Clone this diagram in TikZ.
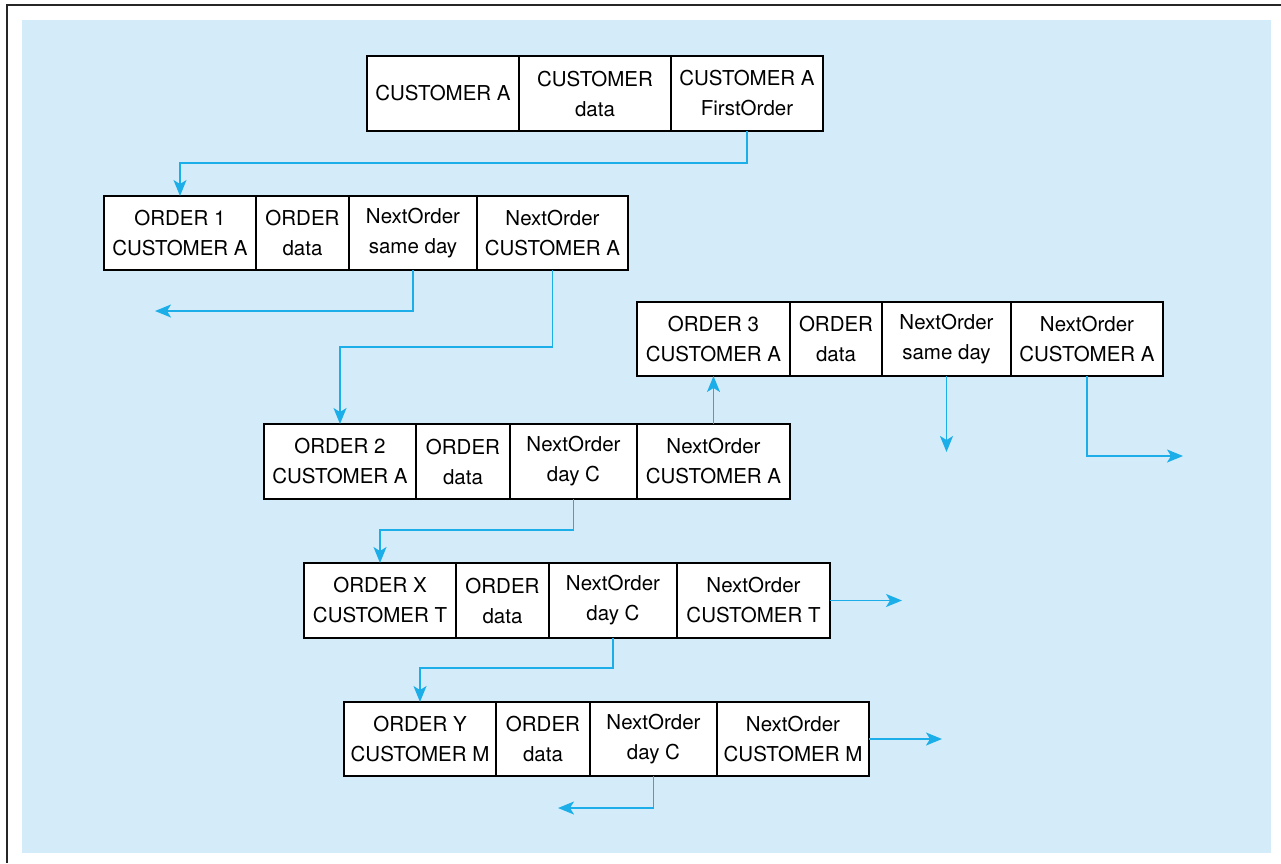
\documentclass[tikz,border=0pt]{standalone}
\usepackage{fontspec}
\setmainfont{TeX Gyre Heros}
\usetikzlibrary{arrows.meta}
\definecolor{bgblue}{HTML}{D4ECF9}
\definecolor{linkcyan}{HTML}{1CAEE9}
\tikzset{
  cell/.style={draw=black, line width=1.3pt, fill=white, inner sep=0pt, outer sep=0pt,
    align=center, font=\fontsize{20.5}{30}\selectfont},
  link/.style={draw=linkcyan, line width=1.6pt, -{Stealth[length=16pt, width=13pt, inset=4pt]}},
}
\newcommand\mkcell[6]{\node[cell, minimum width={(#3-#2)*1pt}, minimum height={(#5-#4)*1pt}] (#1) at ({(#2+#3)/2},{(#4+#5)/2}) {#6};}
\begin{document}
\begin{tikzpicture}[x=1pt,y=-1pt]
\useasboundingbox (0,0) rectangle (1281,863);
\fill[bgblue] (22,20) rectangle (1271,853);
\draw[line width=2pt, black!85] (7,863) -- (7,5) -- (1281,5);
% row 0
\mkcell{r0a}{367}{519}{56}{131}{CUSTOMER A}
\mkcell{r0b}{519}{671}{56}{131}{CUSTOMER\\data}
\mkcell{r0c}{671}{823}{56}{131}{CUSTOMER A\\FirstOrder}
% row 1
\mkcell{r1a}{104}{256}{196}{270}{ORDER 1\\CUSTOMER A}
\mkcell{r1b}{256}{349}{196}{270}{ORDER\\data}
\mkcell{r1c}{349}{477}{196}{270}{NextOrder\\same day}
\mkcell{r1d}{477}{628}{196}{270}{NextOrder\\CUSTOMER A}
% row 3
\mkcell{r3a}{637}{790}{302}{376}{ORDER 3\\CUSTOMER A}
\mkcell{r3b}{790}{882}{302}{376}{ORDER\\data}
\mkcell{r3c}{882}{1011}{302}{376}{NextOrder\\same day}
\mkcell{r3d}{1011}{1163}{302}{376}{NextOrder\\CUSTOMER A}
% row 2
\mkcell{r2a}{264}{416}{424}{499}{ORDER 2\\CUSTOMER A}
\mkcell{r2b}{416}{510}{424}{499}{ORDER\\data}
\mkcell{r2c}{510}{637}{424}{499}{NextOrder\\day C}
\mkcell{r2d}{637}{790}{424}{499}{NextOrder\\CUSTOMER A}
% row X
\mkcell{rxa}{304}{456}{563}{638}{ORDER X\\CUSTOMER T}
\mkcell{rxb}{456}{549}{563}{638}{ORDER\\data}
\mkcell{rxc}{549}{677}{563}{638}{NextOrder\\day C}
\mkcell{rxd}{677}{830}{563}{638}{NextOrder\\CUSTOMER T}
% row Y
\mkcell{rya}{344}{496}{702}{776}{ORDER Y\\CUSTOMER M}
\mkcell{ryb}{496}{590}{702}{776}{ORDER\\data}
\mkcell{ryc}{590}{717}{702}{776}{NextOrder\\day C}
\mkcell{ryd}{717}{869}{702}{776}{NextOrder\\CUSTOMER M}
% free ends
\coordinate (e1) at (155,311);
\coordinate (e2) at (946.5,452);
\coordinate (e3) at (1183,456);
\coordinate (e4) at (902,600.5);
\coordinate (e5) at (942,739);
\coordinate (e6) at (558,808);
% links
\draw[link] (r0c.south) -- ++(0,32) -| (r1a.north);
\draw[link] (r1c.south) |- (e1);
\draw[link] (r1d.south) -- ++(0,77) -| (r2a.north);
\draw[link] (r2d.north) -- (r2d.north |- r3a.south);
\draw[link] (r3c.south) -- (e2);
\draw[link] (r3d.south) |- (e3);
\draw[link] (r2c.south) -- ++(0,31) -| (rxa.north);
\draw[link] (rxd.east) -- (e4);
\draw[link] (rxc.south) -- ++(0,30) -| (rya.north);
\draw[link] (ryd.east) -- (e5);
\draw[link] (ryc.south) |- (e6);
\end{tikzpicture}
\end{document}
